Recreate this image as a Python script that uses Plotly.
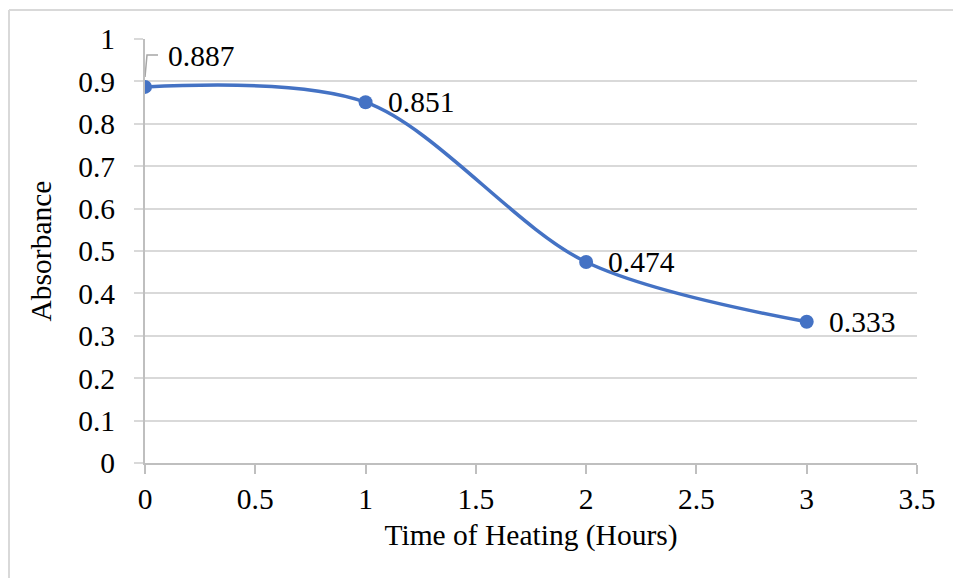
import plotly.graph_objects as go

hours = [0, 1, 2, 3]
absorbance = [0.887, 0.851, 0.474, 0.333]
labels = ["0.887", "0.851", "0.474", "0.333"]
x_ticks = [0, 0.5, 1, 1.5, 2, 2.5, 3, 3.5]
x_tick_text = ["0", "0.5", "1", "1.5", "2", "2.5", "3", "3.5"]
y_ticks = [0, 0.1, 0.2, 0.3, 0.4, 0.5, 0.6, 0.7, 0.8, 0.9, 1]
y_tick_text = ["0", "0.1", "0.2", "0.3", "0.4", "0.5", "0.6", "0.7", "0.8", "0.9", "1"]

W, H = 953, 578
ML, MR, MT, MB = 145, 36, 39, 115
FONT = "Liberation Serif, Times New Roman, serif"
FS = 29.5
BLUE = "#4472C4"

fig = go.Figure()
fig.add_trace(go.Scatter(
    x=hours, y=absorbance, mode="lines+markers",
    line=dict(color=BLUE, width=3.5, shape="spline", smoothing=0.9),
    marker=dict(color=BLUE, size=14),
    hoverinfo="skip", showlegend=False,
))

# data labels
for i, (xv, yv, t) in enumerate(zip(hours, absorbance, labels)):
    fig.add_annotation(
        x=xv, y=yv, text=t, showarrow=False, xanchor="left", yanchor="middle",
        xshift=21 if i == 0 else 20, yshift=31 if i == 0 else 0,
        font=dict(family=FONT, size=FS, color="#000000"),
    )

# leader line for first label
fig.add_shape(
    type="path", xref="x", yref="y",
    xsizemode="pixel", ysizemode="pixel",
    xanchor=hours[0], yanchor=absorbance[0],
    path="M 0,10 L 2,32 L 13,32",
    line=dict(color="#a6a6a6", width=1.5),
)

# chart-area border (top and left only visible)
pw = W - ML - MR
ph = H - MT - MB
fig.add_shape(type="line", xref="paper", yref="paper",
              x0=(9 - ML) / pw, x1=(W + 5 - ML) / pw,
              y0=(H - MB - 10) / ph, y1=(H - MB - 10) / ph,
              line=dict(color="#d9d9d9", width=2))
fig.add_shape(type="line", xref="paper", yref="paper",
              x0=(9 - ML) / pw, x1=(9 - ML) / pw,
              y0=(H - MB - 10) / ph, y1=(-MB - 5) / ph,
              line=dict(color="#d9d9d9", width=2))

fig.update_layout(
    width=W, height=H,
    margin=dict(l=ML, r=MR, t=MT, b=MB, pad=0),
    paper_bgcolor="white", plot_bgcolor="white",
    font=dict(family=FONT, size=FS, color="#000000"),
    xaxis=dict(
        range=[0, 3.5], tickvals=x_ticks, ticktext=x_tick_text,
        showgrid=False, zeroline=False,
        showline=True, linecolor="#bfbfbf", linewidth=2,
        ticks="outside", ticklen=9, tickcolor="#bfbfbf", tickwidth=2,
        ticklabelstandoff=0,
        title=dict(text="Time of Heating (Hours)", standoff=10,
                   font=dict(family=FONT, size=FS)),
        tickfont=dict(family=FONT, size=FS),
        automargin=False, fixedrange=True,
    ),
    yaxis=dict(
        range=[0, 1], tickvals=y_ticks, ticktext=y_tick_text,
        showgrid=True, gridcolor="#d9d9d9", gridwidth=2,
        zeroline=False,
        showline=True, linecolor="#bfbfbf", linewidth=2,
        ticks="outside", ticklen=9, tickcolor="#d9d9d9", tickwidth=2,
        ticklabelstandoff=13,
        title=dict(text="Absorbance", standoff=18,
                   font=dict(family=FONT, size=FS)),
        tickfont=dict(family=FONT, size=FS),
        automargin=False, fixedrange=True,
    ),
)

fig.write_html("out.html")
